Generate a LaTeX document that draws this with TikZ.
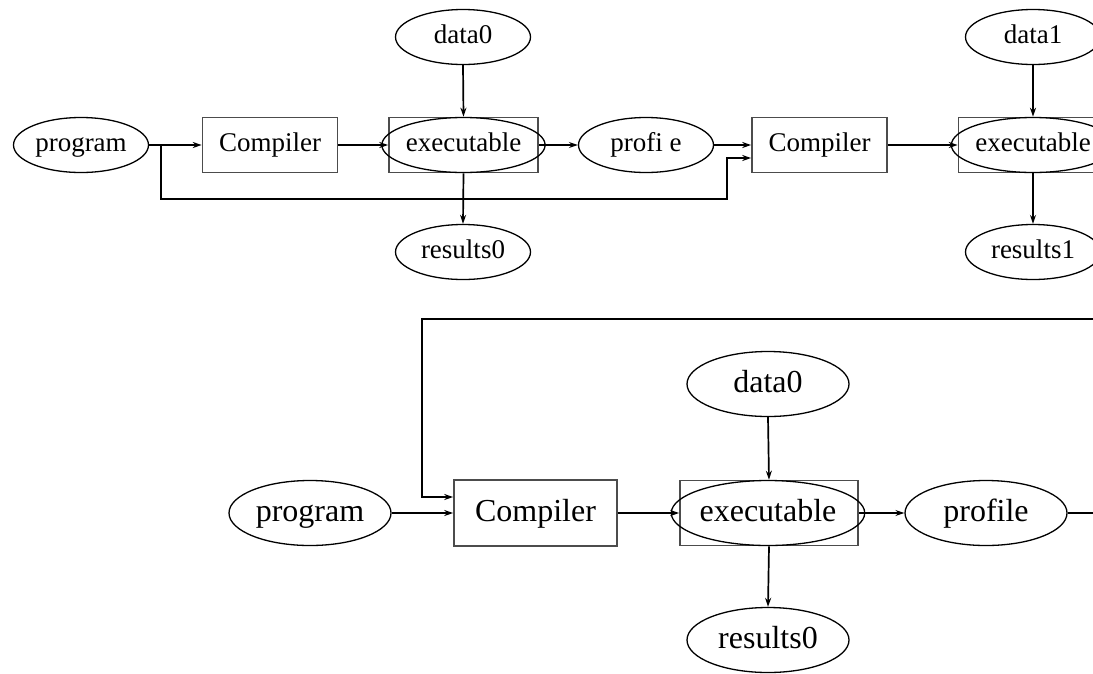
\documentclass[tikz,border=0pt]{standalone}
\usepackage{fontspec}
\setmainfont{Liberation Serif}
\usetikzlibrary{shapes.geometric,arrows.meta}
\begin{document}
\begin{tikzpicture}[x=1pt,y=-1pt,
  oval/.style={draw, ellipse, line width=1.3pt, inner sep=0pt,
    text height=19pt, text depth=6pt,
    minimum width=135pt, minimum height=55pt, font=\fontsize{27}{30}\selectfont},
  compbox/.style={draw=black!70, rectangle, line width=1.6pt, inner sep=0pt,
    text height=19pt, text depth=6pt,
    minimum width=135pt, minimum height=55pt, font=\fontsize{27}{30}\selectfont},
  exbox/.style={draw=black!70, rectangle, line width=1.6pt, inner sep=0pt,
    minimum width=149pt, minimum height=55pt},
  bigoval/.style={oval, minimum width=162pt, minimum height=65pt,
    text height=23pt, text depth=7pt, font=\fontsize{32}{36}\selectfont},
  bigcomp/.style={compbox, minimum width=163pt, minimum height=66pt,
    text height=23pt, text depth=7pt, font=\fontsize{32}{36}\selectfont},
  bigex/.style={exbox, minimum width=178pt, minimum height=65pt},
  conn/.style={line width=1.7pt, -{Stealth[length=9pt,width=6pt]}},
  wire/.style={line width=1.7pt}
]
\useasboundingbox (0,0) rectangle (1093,673);
\clip (0,0) rectangle (1093,673);

% ---------- first pass: program compiled, run on data0, then recompiled with profile ----------
\node[oval] (progA) at (81,145) {program};
\node[compbox] (compA) at (270,145) {Compiler};
\node[exbox] (exA) at (463.5,145) {};
\node[oval, minimum width=133pt] (exAe) at (463.5,145) {executable};
\node[oval] (dataA) at (463,37) {data0};
\node[oval] (resA) at (463,252) {results0};
\node[oval] (profA) at (646,145) {profi e};
\node[compbox] (compB) at (819.5,145) {Compiler};
\node[exbox] (exB) at (1033,145) {};
\node[oval, minimum width=133pt] (exBe) at (1033,145) {executable};
\node[oval] (dataB) at (1033,37) {data1};
\node[oval] (resB) at (1033,252) {results1};

\coordinate (br) at (161,145);
\coordinate (b1) at (161,199);
\coordinate (b2) at (727,199);
\coordinate (b3) at (727,158);

\draw[conn] (progA.east) -- (compA.west);
\draw[conn] (br) -- (b1) -- (b2) -- (b3) -- (compB.west |- b3);
\draw[conn] (compA.east) -- (exA.west);
\draw[conn] (dataA.south) -- (exA.north);
\draw[conn] (exA.south) -- (resA.north);
\draw[conn] (exA.east) -- (profA.west);
\draw[conn] (profA.east) -- (compB.west);
\draw[conn] (compB.east) -- (exB.west);
\draw[conn] (dataB.south) -- (exB.north);
\draw[conn] (exB.south) -- (resB.north);

% ---------- second scheme: profile fed back into the compiler ----------
\node[bigoval] (progC) at (310,513) {program};
\node[bigcomp] (compC) at (535.5,513) {Compiler};
\node[bigex] (exC) at (769,513) {};
\node[bigoval] (exCe) at (768,513) {executable};
\node[bigoval] (dataC) at (768,384) {data0};
\node[bigoval] (resC) at (768,640) {results0};
\node[bigoval] (profC) at (986,513) {profile};

\coordinate (pout) at (1100,513);
\coordinate (l1) at (1100,319);
\coordinate (l2) at (422,319);
\coordinate (l3) at (422,497);

\draw[conn] (progC.east) -- (compC.west);
\draw[conn] (compC.east) -- (exC.west);
\draw[conn] (dataC.south) -- (exC.north);
\draw[conn] (exC.south) -- (resC.north);
\draw[conn] (exC.east) -- (profC.west);
\draw[wire] (profC.east) -- (pout);
\draw[conn] (l1) -- (l2) -- (l3) -- (compC.west |- l3);
\end{tikzpicture}
\end{document}
